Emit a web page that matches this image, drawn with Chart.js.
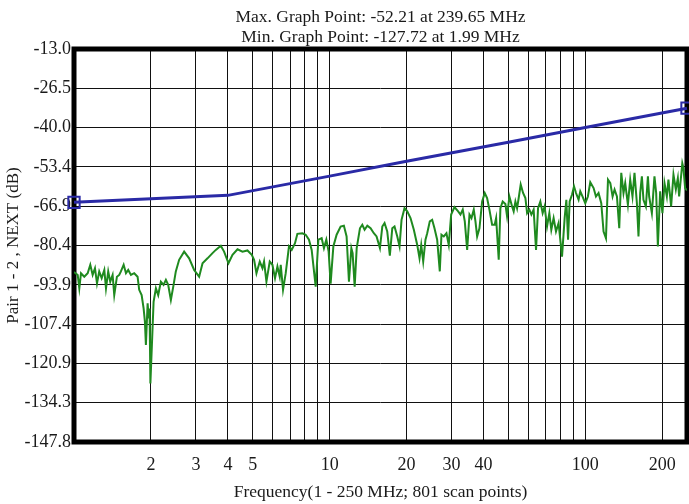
<!DOCTYPE html>
<html>
<head>
<meta charset="utf-8">
<script src="https://cdn.jsdelivr.net/npm/chart.js@4.4.1/dist/chart.umd.min.js"></script>
<style>
  html, body { margin: 0; padding: 0; background: #fff; }
  #wrap { width: 689px; height: 504px; }
</style>
</head>
<body>
<div id="wrap"><canvas id="chart" width="689" height="504"></canvas></div>
<script>
// measured trace (MHz, dB)
const greenFreq = [1.0, 1.034, 1.049, 1.065, 1.097, 1.131, 1.158, 1.183, 1.208, 1.230, 1.255, 1.283, 1.314, 1.334, 1.361, 1.386, 1.416, 1.437, 1.472, 1.503,
  1.526, 1.564, 1.597, 1.630, 1.670, 1.720, 1.773, 1.799, 1.839, 1.872, 1.894, 1.911, 1.941, 1.960, 1.975, 1.99, 2.048, 2.091, 2.135, 2.187,
  2.241, 2.288, 2.336, 2.393, 2.452, 2.502, 2.578, 2.697, 2.821, 2.951, 3.087, 3.183, 3.329, 3.482, 3.587, 3.752, 3.865, 4.021, 4.169, 4.361,
  4.560, 4.770, 4.960, 5.063, 5.173, 5.329, 5.460, 5.540, 5.659, 5.830, 5.973, 6.114, 6.248, 6.379, 6.437, 6.572, 6.733, 6.934, 7.106, 7.320,
  7.479, 7.824, 8.059, 8.301, 8.506, 8.818, 9.034, 9.307, 9.501, 9.707, 9.91, 10.09, 10.34, 10.65, 11.04, 11.37, 11.65, 11.90, 12.16, 12.30,
  12.53, 12.76, 13.14, 13.42, 13.70, 14.04, 14.46, 14.89, 15.26, 15.73, 16.07, 16.40, 16.80, 17.20, 17.58, 17.94, 18.39, 18.77, 19.11, 19.63,
  20.12, 20.72, 21.35, 22.01, 22.47, 22.82, 23.23, 23.71, 24.08, 24.65, 25.18, 25.71, 26.34, 26.97, 27.38, 27.96, 28.64, 29.24, 29.88, 30.78,
  31.82, 32.49, 33.17, 33.78, 34.51, 35.24, 35.88, 36.63, 37.19, 37.76, 38.55, 39.50, 40.44, 41.30, 42.17, 43.21, 44.23, 44.80, 45.86, 46.56,
  47.53, 48.70, 49.44, 50.48, 51.72, 52.47, 53.29, 54.11, 54.90, 55.90, 57.11, 58.31, 59.22, 60.44, 61.54, 62.81, 64.18, 65.35, 66.72, 68.12,
  69.34, 70.86, 72.34, 73.65, 75.19, 76.82, 78.64, 81.10, 83.04, 84.33, 85.62, 86.88, 88.72, 90.36, 91.99, 94.15, 95.6, 97.6, 100, 102.4,
  104.6, 107.8, 110.1, 112.7, 115.5, 117.9, 120.5, 122.7, 125.3, 127.9, 130.2, 133.0, 135.8, 138.3, 141.1, 143.3, 146.8, 149.9, 153.0, 155.8,
  159.2, 161.5, 164.0, 166.5, 168.9, 172.6, 175.8, 177.8, 182.2, 186.5, 189.4, 192.3, 196.3, 200.4, 204.1, 208.5, 211.5, 216.7, 221.3, 226.1,
  230.2, 232.9, 239.65, 242.1, 245.8, 250];
const greenDb = [-89.5, -90.5, -95.1, -89.9, -91.1, -89.9, -87.0, -90.5, -88.2, -93.4, -89.3, -91.6, -88.8, -95.1, -89.3, -92.8, -90.5, -97.4, -91.1, -90.5,
  -89.3, -87.0, -89.9, -88.8, -90.5, -89.9, -91.1, -95.6, -97.4, -102.0, -106.5, -114.5, -100.2, -105.4, -102.0, -127.72, -99.7, -95.1, -97.4, -92.8,
  -93.9, -92.2, -93.9, -99.1, -93.9, -89.3, -85.3, -82.5, -84.8, -88.8, -91.1, -86.5, -84.8, -83.0, -81.9, -80.5, -82.5, -86.5, -83.6, -81.7,
  -82.5, -82.1, -83.6, -85.3, -89.9, -85.9, -88.2, -85.9, -92.8, -85.9, -87.0, -91.6, -87.6, -91.1, -87.0, -95.6, -89.9, -80.7, -81.9, -79.6,
  -76.4, -76.2, -76.7, -78.4, -81.9, -94.5, -78.4, -77.9, -81.3, -78.4, -82.5, -93.5, -80.7, -76.7, -73.9, -73.6, -77.3, -92.8, -81.3, -83.0,
  -94.5, -81.3, -74.5, -73.3, -75.0, -73.6, -74.5, -76.2, -77.3, -81.3, -73.9, -72.7, -75.6, -83.9, -74.5, -73.9, -77.3, -80.7, -71.6, -67.6,
  -68.7, -71.0, -75.0, -80.2, -84.8, -80.2, -85.9, -78.4, -76.2, -72.1, -71.6, -74.5, -78.4, -89.3, -76.7, -77.3, -76.2, -80.2, -69.8, -67.2,
  -68.7, -69.8, -68.1, -72.1, -81.9, -69.8, -71.0, -68.1, -72.1, -77.3, -74.5, -65.3, -62.4, -64.1, -68.1, -73.3, -73.3, -71.0, -85.3, -67.6,
  -65.3, -66.2, -70.4, -63.6, -67.0, -68.7, -65.3, -67.6, -64.1, -59.5, -62.4, -64.1, -69.3, -68.1, -69.8, -68.1, -81.9, -67.6, -65.3, -69.3,
  -67.0, -73.9, -69.3, -75.0, -71.0, -75.6, -72.7, -84.2, -71.0, -64.7, -78.4, -65.3, -63.0, -60.1, -62.4, -64.7, -61.8, -63.6, -65.9, -63.6,
  -58.7, -60.7, -63.6, -62.4, -65.9, -75.6, -77.9, -57.8, -59.0, -63.6, -61.2, -63.6, -74.5, -55.5, -62.4, -59.0, -66.4, -57.8, -63.6, -55.5,
  -65.9, -77.3, -62.4, -56.7, -64.7, -67.0, -56.7, -63.6, -69.3, -56.7, -62.4, -80.7, -61.8, -69.3, -59.0, -63.6, -57.8, -67.0, -56.1, -61.2,
  -57.3, -63.6, -52.21, -53.8, -60.7, -61.5];

// limit line
const limitFreq = [1, 4, 10, 20, 50, 100, 250];
const limitDb = [-65.6, -63.2, -56.6, -51.5, -45.0, -39.9, -33.3];

const yTicks = [-13.0, -26.5, -40.0, -53.4, -66.9, -80.4, -93.9, -107.4, -120.9, -134.3, -147.8];
const xGrid = [2, 3, 4, 5, 6, 7, 8, 9, 10, 20, 30, 40, 50, 60, 70, 80, 90, 100, 200];
const xLabels = [2, 3, 4, 5, 10, 20, 30, 40, 100, 200];
const headerLines = ['Max. Graph Point: -52.21 at 239.65 MHz', 'Min. Graph Point: -127.72 at 1.99 MHz'];

const FONT = '"Liberation Serif", "Times New Roman", serif';
const TEXT = '#1a1a1a';

const framePlugin = {
  id: 'frame',
  beforeDatasetsDraw(chart) {
    const a = chart.chartArea, ctx = chart.ctx;
    ctx.save();
    ctx.strokeStyle = '#000';
    ctx.lineWidth = 5;
    ctx.strokeRect(a.left, a.top, a.right - a.left, a.bottom - a.top);
    ctx.restore();
  }
};

const headerPlugin = {
  id: 'header',
  afterDraw(chart) {
    const a = chart.chartArea, ctx = chart.ctx;
    const cx = (a.left + a.right) / 2;
    ctx.save();
    ctx.fillStyle = TEXT;
    ctx.font = '17.5px ' + FONT;
    ctx.textAlign = 'center';
    ctx.textBaseline = 'middle';
    ctx.fillText(headerLines[0], cx, 17);
    ctx.fillText(headerLines[1], cx, 37);
    ctx.restore();
  }
};

new Chart(document.getElementById('chart'), {
  type: 'line',
  data: {
    datasets: [
      {
        data: greenFreq.map((f, i) => ({ x: f, y: greenDb[i] })),
        borderColor: '#1f8a1f',
        borderWidth: 2,
        pointRadius: 0,
        tension: 0
      },
      {
        data: limitFreq.map((f, i) => ({ x: f, y: limitDb[i] })),
        borderColor: '#2a2aa6',
        borderWidth: 3,
        pointStyle: 'rect',
        pointRadius: ctx => (ctx.dataIndex === 0 || ctx.dataIndex === limitFreq.length - 1) ? 8 : 0,
        pointBorderWidth: 2,
        pointBorderColor: '#2a2aa6',
        pointBackgroundColor: 'rgba(255,255,255,0)',
        tension: 0,
        clip: false
      }
    ]
  },
  options: {
    responsive: false,
    animation: false,
    devicePixelRatio: 1,
    layout: { autoPadding: false, padding: { top: 49, right: 2, left: 0, bottom: 0 } },
    plugins: { legend: { display: false }, tooltip: { enabled: false } },
    scales: {
      x: {
        type: 'logarithmic',
        min: 1,
        max: 250,
        afterBuildTicks: s => { s.ticks = xGrid.map(v => ({ value: v })); },
        afterFit: s => { s.height = 62; s.paddingLeft = 0; s.paddingRight = 0; },
        grid: { color: '#111', lineWidth: 1, drawTicks: false },
        border: { display: false },
        ticks: {
          autoSkip: false,
          maxRotation: 0,
          padding: 12,
          color: TEXT,
          font: { family: FONT, size: 18 },
          callback: v => xLabels.includes(v) ? String(v) : ''
        },
        title: {
          display: true,
          text: 'Frequency(1 - 250 MHz; 801 scan points)',
          color: TEXT,
          font: { family: FONT, size: 17.5 },
          padding: { top: 0, bottom: 1 }
        }
      },
      y: {
        type: 'linear',
        min: -147.8,
        max: -13.0,
        afterBuildTicks: s => { s.ticks = yTicks.map(v => ({ value: v })); },
        afterFit: s => { s.width = 74; s.paddingTop = 0; s.paddingBottom = 0; },
        grid: { color: '#111', lineWidth: 1, drawTicks: false },
        border: { display: false },
        ticks: {
          padding: 3,
          color: TEXT,
          font: { family: FONT, size: 18 },
          callback: v => v.toFixed(1)
        },
        title: {
          display: true,
          text: 'Pair 1 - 2 , NEXT (dB)',
          color: TEXT,
          font: { family: FONT, size: 17 },
          padding: { top: 3, bottom: 0 }
        }
      }
    }
  },
  plugins: [framePlugin, headerPlugin]
});
</script>
</body>
</html>
